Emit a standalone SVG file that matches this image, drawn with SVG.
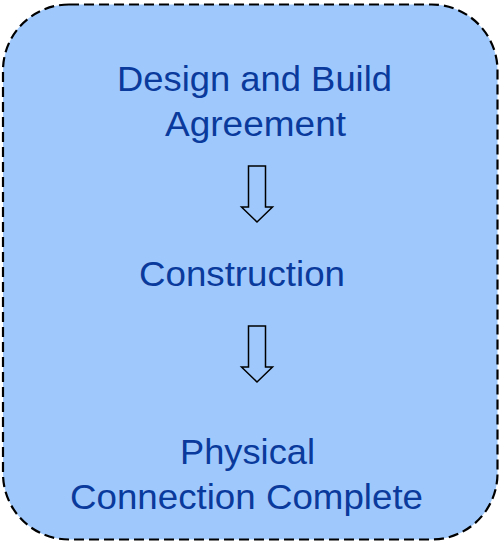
<svg xmlns="http://www.w3.org/2000/svg" width="501" height="542" viewBox="0 0 501 542">
<style>
.box{fill:#9fc9fc;stroke:#000;stroke-width:2.2;stroke-dasharray:10 5}
.t{font-family:"Liberation Sans",Arial,sans-serif;font-size:35px;fill:#0a3a9c}
.arr{fill:#9fc9fc;stroke:#000;stroke-width:1.5;stroke-linejoin:miter}
</style>
<g id="container">
<rect class="box" x="3" y="4.5" width="494.5" height="535" rx="66" ry="66"/>
</g>
<g id="node-design">
<text class="t" x="117" y="91" textLength="275" lengthAdjust="spacingAndGlyphs">Design and Build</text>
<text class="t" x="165" y="136" textLength="181" lengthAdjust="spacingAndGlyphs">Agreement</text>
</g>
<g id="node-construction">
<text class="t" x="139" y="286" textLength="206" lengthAdjust="spacingAndGlyphs">Construction</text>
</g>
<g id="node-physical">
<text class="t" x="180" y="464" textLength="135" lengthAdjust="spacingAndGlyphs">Physical</text>
<text class="t" x="70" y="509" textLength="353" lengthAdjust="spacingAndGlyphs">Connection Complete</text>
</g>
<g id="connectors">
<path class="arr" d="M248.5,166 H265.5 V207 H272.5 L257,222 L241.5,207 H248.5 Z"/>
<path class="arr" d="M248.5,326 H265.5 V367 H272.5 L257,382 L241.5,367 H248.5 Z"/>
</g>
</svg>
